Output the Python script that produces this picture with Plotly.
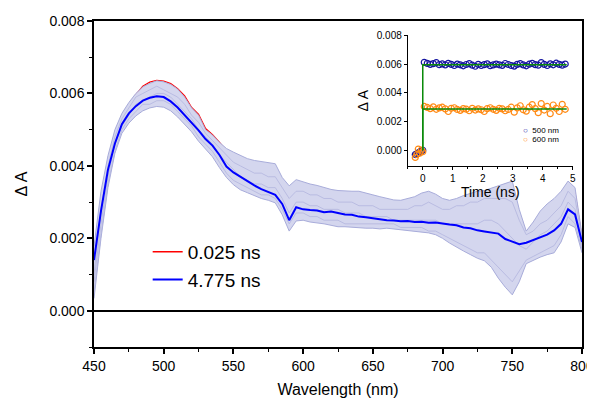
import plotly.graph_objects as go

# ---------------- main chart data ----------------
wavelength = [450, 455, 460, 465, 470, 475, 480, 485, 490, 495, 500, 505, 510, 515, 520, 525,
              530, 535, 540, 545, 550, 555, 560, 565, 570, 575, 580, 585, 590, 595, 600, 605,
              610, 615, 620, 625, 630, 635, 640, 645, 650, 655, 660, 665, 670, 675, 680, 685,
              690, 695, 700, 705, 710, 715, 720, 725, 730, 735, 740, 745, 750, 755, 760, 765,
              770, 775, 780, 785, 790, 795, 800]

spec_4775ns = [0.00140, 0.00275, 0.00389, 0.00462, 0.00515, 0.00545, 0.00565, 0.00580, 0.00588,
               0.00592, 0.00590, 0.00578, 0.00561, 0.00540, 0.00520, 0.00498, 0.00474, 0.00456,
               0.00430, 0.00398, 0.00382, 0.00370, 0.00356, 0.00346, 0.00336, 0.00328, 0.00320,
               0.00295, 0.00250, 0.00286, 0.00280, 0.00278, 0.00277, 0.00272, 0.00274, 0.00270,
               0.00266, 0.00265, 0.00260, 0.00258, 0.00255, 0.00252, 0.00250, 0.00249, 0.00247,
               0.00248, 0.00245, 0.00246, 0.00243, 0.00244, 0.00240, 0.00238, 0.00236, 0.00230,
               0.00228, 0.00222, 0.00219, 0.00215, 0.00213, 0.00198, 0.00192, 0.00184, 0.00188,
               0.00196, 0.00202, 0.00210, 0.00222, 0.00240, 0.00280, 0.00266, 0.00190]

spec_0025ns = [0.00060, 0.00240, 0.00380, 0.00470, 0.00530, 0.00568, 0.00596, 0.00620, 0.00631,
               0.00636, 0.00634, 0.00627, 0.00613, 0.00593, 0.00561, 0.00542, 0.00503, 0.00486,
               0.00465, 0.00440, 0.00425, 0.00415, 0.00405, 0.00398, 0.00392, 0.00388, 0.00385,
               0.00350, 0.00320, 0.00345, 0.00338, 0.00332, 0.00328, 0.00322, 0.00318, 0.00315,
               0.00312, 0.00310, 0.00308, 0.00305, 0.00300, 0.00296, 0.00292, 0.00290, 0.00288,
               0.00290, 0.00295, 0.00300, 0.00305, 0.00298, 0.00290, 0.00285, 0.00288, 0.00294,
               0.00300, 0.00305, 0.00310, 0.00315, 0.00322, 0.00330, 0.00335, 0.00265, 0.00205,
               0.00230, 0.00258, 0.00275, 0.00290, 0.00312, 0.00340, 0.00325, 0.00200]

# envelope of the intermediate-delay spectra (light lavender bundle)
bundle_upper = [0.00178, 0.00330, 0.00428, 0.00500, 0.00545, 0.00575, 0.00600, 0.00618, 0.00628,
                0.00635, 0.00632, 0.00625, 0.00612, 0.00590, 0.00560, 0.00540, 0.00500, 0.00485,
                0.00465, 0.00448, 0.00438, 0.00428, 0.00420, 0.00415, 0.00412, 0.00410, 0.00406,
                0.00368, 0.00345, 0.00362, 0.00355, 0.00350, 0.00346, 0.00340, 0.00335, 0.00332,
                0.00330, 0.00330, 0.00330, 0.00326, 0.00320, 0.00315, 0.00310, 0.00306, 0.00305,
                0.00310, 0.00315, 0.00325, 0.00330, 0.00322, 0.00310, 0.00305, 0.00310, 0.00318,
                0.00325, 0.00330, 0.00332, 0.00338, 0.00345, 0.00352, 0.00358, 0.00280, 0.00220,
                0.00245, 0.00275, 0.00295, 0.00310, 0.00330, 0.00358, 0.00340, 0.00210]

bundle_lower = [0.00034, 0.00200, 0.00340, 0.00435, 0.00490, 0.00518, 0.00538, 0.00552, 0.00560,
                0.00564, 0.00562, 0.00552, 0.00535, 0.00515, 0.00494, 0.00468, 0.00445, 0.00425,
                0.00395, 0.00368, 0.00348, 0.00334, 0.00326, 0.00318, 0.00310, 0.00305, 0.00298,
                0.00265, 0.00220, 0.00248, 0.00250, 0.00245, 0.00243, 0.00240, 0.00236, 0.00232,
                0.00232, 0.00230, 0.00230, 0.00228, 0.00228, 0.00226, 0.00228, 0.00226, 0.00222,
                0.00220, 0.00218, 0.00218, 0.00215, 0.00210, 0.00200, 0.00187, 0.00175, 0.00165,
                0.00155, 0.00145, 0.00138, 0.00120, 0.00090, 0.00065, 0.00044, 0.00080, 0.00130,
                0.00140, 0.00148, 0.00155, 0.00160, 0.00190, 0.00240, 0.00230, 0.00160]

# a few individual intermediate-delay spectra inside the bundle
spec_mid_a = [0.0010, 0.0028, 0.0040, 0.0048, 0.0053, 0.0056, 0.0059, 0.0060, 0.0061, 0.0062,
              0.0061, 0.0060, 0.0059, 0.0057, 0.0054, 0.0052, 0.0049, 0.0047, 0.0045, 0.0043,
              0.0041, 0.0040, 0.0039, 0.0038, 0.0038, 0.0037, 0.0037, 0.0034, 0.0031, 0.0033,
              0.0033, 0.0032, 0.0032, 0.0031, 0.0031, 0.0030, 0.0030, 0.0030, 0.0029, 0.0029,
              0.0029, 0.0028, 0.0028, 0.0028, 0.0028, 0.0028, 0.0029, 0.0029, 0.0030, 0.0029,
              0.0028, 0.0028, 0.0029, 0.0029, 0.0030, 0.0030, 0.0031, 0.0031, 0.0031, 0.0031,
              0.0030, 0.0025, 0.0021, 0.0022, 0.0024, 0.0025, 0.0027, 0.0029, 0.0033, 0.0031,
              0.0020]
spec_mid_b = [0.0008, 0.0024, 0.0037, 0.0046, 0.0051, 0.0054, 0.0057, 0.0058, 0.0059, 0.0060,
              0.0060, 0.0059, 0.0057, 0.0055, 0.0053, 0.0050, 0.0048, 0.0046, 0.0043, 0.0041,
              0.0039, 0.0037, 0.0036, 0.0035, 0.0035, 0.0034, 0.0034, 0.0031, 0.0027, 0.0030,
              0.0030, 0.0029, 0.0029, 0.0028, 0.0028, 0.0028, 0.0027, 0.0027, 0.0027, 0.0026,
              0.0026, 0.0026, 0.0026, 0.0025, 0.0025, 0.0025, 0.0025, 0.0025, 0.0025, 0.0025,
              0.0024, 0.0024, 0.0024, 0.0024, 0.0024, 0.0024, 0.0025, 0.0025, 0.0024, 0.0022,
              0.0020, 0.0018, 0.0017, 0.0019, 0.0021, 0.0022, 0.0024, 0.0026, 0.0030, 0.0028,
              0.0018]
spec_mid_c = [0.0005, 0.0021, 0.0035, 0.0044, 0.0050, 0.0053, 0.0055, 0.0057, 0.0057, 0.0058,
              0.0058, 0.0057, 0.0055, 0.0053, 0.0051, 0.0048, 0.0046, 0.0044, 0.0041, 0.0038,
              0.0036, 0.0035, 0.0034, 0.0033, 0.0032, 0.0032, 0.0031, 0.0028, 0.0024, 0.0027,
              0.0027, 0.0026, 0.0026, 0.0025, 0.0025, 0.0025, 0.0024, 0.0024, 0.0024, 0.0024,
              0.0024, 0.0024, 0.0024, 0.0024, 0.0023, 0.0023, 0.0023, 0.0023, 0.0022, 0.0022,
              0.0021, 0.0020, 0.0019, 0.0018, 0.0017, 0.0016, 0.0016, 0.0014, 0.0012, 0.0010,
              0.0008, 0.0011, 0.0014, 0.0015, 0.0016, 0.0017, 0.0018, 0.0021, 0.0026, 0.0024,
              0.0017]

x_ticks = [450, 500, 550, 600, 650, 700, 750, 800]
y_ticks = [0.000, 0.002, 0.004, 0.006, 0.008]
y_tick_labels = ["0.000", "0.002", "0.004", "0.006", "0.008"]

# ---------------- inset (kinetics) data ----------------
t_pre = [-0.25, -0.20, -0.15, -0.10, -0.05, 0.00]
kin500_pre = [-0.00030, -0.00025, -0.00018, -0.00012, -0.00005, 0.00000]
kin600_pre = [-0.00050, -0.00030, 0.00008, -0.00020, 0.00002, -0.00010]

t_post = [0.05, 0.15, 0.25, 0.35, 0.45, 0.55, 0.65, 0.75, 0.85, 0.95,
          1.05, 1.15, 1.25, 1.35, 1.45, 1.55, 1.65, 1.75, 1.85, 1.95,
          2.05, 2.15, 2.25, 2.35, 2.45, 2.55, 2.65, 2.75, 2.85, 2.95,
          3.05, 3.15, 3.25, 3.35, 3.45, 3.55, 3.65, 3.75, 3.85, 3.95,
          4.05, 4.15, 4.25, 4.35, 4.45, 4.55, 4.65, 4.75]
kin500 = [0.00612, 0.00605, 0.00598, 0.00603, 0.00610, 0.00596, 0.00601, 0.00594, 0.00605, 0.00598,
          0.00590, 0.00600, 0.00595, 0.00588, 0.00597, 0.00603, 0.00592, 0.00585, 0.00598, 0.00590,
          0.00596, 0.00602, 0.00589, 0.00594, 0.00600, 0.00595, 0.00591, 0.00604, 0.00597, 0.00590,
          0.00586, 0.00598, 0.00603, 0.00594, 0.00588, 0.00599, 0.00605, 0.00596, 0.00592, 0.00610,
          0.00598, 0.00590, 0.00602, 0.00595, 0.00606, 0.00598, 0.00592, 0.00600]
kin600 = [0.00305, 0.00298, 0.00290, 0.00302, 0.00285, 0.00295, 0.00300, 0.00288, 0.00270, 0.00292,
          0.00296, 0.00284, 0.00278, 0.00290, 0.00286, 0.00275, 0.00292, 0.00280, 0.00288, 0.00282,
          0.00270, 0.00290, 0.00296, 0.00285, 0.00278, 0.00292, 0.00288, 0.00275, 0.00284, 0.00300,
          0.00265, 0.00295, 0.00310, 0.00282, 0.00272, 0.00300, 0.00318, 0.00290, 0.00262, 0.00325,
          0.00280, 0.00305, 0.00255, 0.00315, 0.00292, 0.00270, 0.00320, 0.00285]

fit_t = [0.0, 0.0, 4.8]
fit500 = [0.0, 0.00595, 0.00595]
fit600 = [0.0, 0.00288, 0.00288]

inset_x_ticks = [0, 1, 2, 3, 4, 5]

FONT = "Arial, Liberation Sans, sans-serif"
BUNDLE_LINE = "rgb(168,172,218)"
BUNDLE_INNER = "rgb(178,181,222)"
BUNDLE_FILL = "rgb(212,214,238)"
BLUE500 = "#1414a0"
ORANGE600 = "#ff8a14"
GREEN = "#0a8a0a"

fig = go.Figure()

# red spectrum (mostly hidden under the bundle)
fig.add_trace(go.Scatter(x=wavelength, y=spec_0025ns, mode="lines", name="0.025 ns",
                         line=dict(color="#ff0000", width=1.3)))
# bundle of intermediate spectra
fig.add_trace(go.Scatter(x=wavelength, y=bundle_lower, mode="lines", showlegend=False,
                         line=dict(color=BUNDLE_LINE, width=1)))
fig.add_trace(go.Scatter(x=wavelength, y=bundle_upper, mode="lines", showlegend=False,
                         fill="tonexty", fillcolor=BUNDLE_FILL,
                         line=dict(color=BUNDLE_LINE, width=1)))
for spec in (spec_mid_a, spec_mid_b, spec_mid_c):
    fig.add_trace(go.Scatter(x=wavelength, y=spec, mode="lines", showlegend=False,
                             line=dict(color=BUNDLE_INNER, width=0.8)))
# blue spectrum
fig.add_trace(go.Scatter(x=wavelength, y=spec_4775ns, mode="lines", name="4.775 ns",
                         line=dict(color="#0000ff", width=2)))

# inset kinetics
fig.add_trace(go.Scatter(x=t_pre + t_post, y=kin500_pre + kin500, mode="markers", showlegend=False,
                         xaxis="x2", yaxis="y2",
                         marker=dict(symbol="circle-open", size=6, color=BLUE500, line=dict(width=1.2))))
fig.add_trace(go.Scatter(x=t_pre + t_post, y=kin600_pre + kin600, mode="markers", showlegend=False,
                         xaxis="x2", yaxis="y2",
                         marker=dict(symbol="circle-open", size=6, color=ORANGE600, line=dict(width=1.2))))
fig.add_trace(go.Scatter(x=fit_t, y=fit500, mode="lines", showlegend=False, xaxis="x2", yaxis="y2",
                         line=dict(color=GREEN, width=1.5)))
fig.add_trace(go.Scatter(x=fit_t, y=fit600, mode="lines", showlegend=False, xaxis="x2", yaxis="y2",
                         line=dict(color=GREEN, width=1.5)))

# the page places the figure 8 px from the window's top-left corner, so the figure is
# sized to fit the remaining window and the margins land the axes where the reference has them
fig.update_layout(
    width=587, height=390,
    margin=dict(l=86, r=13, t=13, b=51),
    paper_bgcolor="white", plot_bgcolor="white",
    font=dict(family=FONT, color="black", size=14),
    showlegend=True,
    legend=dict(x=0.11, y=0.35, xanchor="left", yanchor="top", traceorder="normal",
                bgcolor="rgba(0,0,0,0)", borderwidth=0,
                font=dict(size=19, family=FONT), tracegroupgap=0),
    xaxis=dict(range=[450, 800], tickvals=x_ticks, showline=True, mirror=True, automargin=False,
               ticklabeloverflow="allow",
               linecolor="black", linewidth=1.5, ticks="outside", ticklen=5, tickwidth=1.5,
               tickcolor="black", showgrid=False, zeroline=False,
               minor=dict(dtick=25, ticks="outside", ticklen=3, tickwidth=1.2, tickcolor="black"),
               tickfont=dict(size=14),
               title=dict(text="Wavelength (nm)", font=dict(size=16), standoff=13)),
    yaxis=dict(range=[-0.001, 0.008], tickvals=y_ticks, ticktext=y_tick_labels, showline=True,
               mirror=True, automargin=False,
               linecolor="black", linewidth=1.5, ticks="outside", ticklen=5,
               tickwidth=1.5, tickcolor="black", showgrid=False,
               zeroline=True, zerolinecolor="black", zerolinewidth=1.5,
               minor=dict(tickvals=[-0.001, 0.001, 0.003, 0.005, 0.007], ticks="outside",
                          ticklen=3, tickwidth=1.2, tickcolor="black"),
               tickfont=dict(size=14),
               title=dict(text="Δ A", font=dict(size=16), standoff=18)),
    xaxis2=dict(domain=[0.643, 0.981], anchor="y2", range=[-0.5, 5.0], tickvals=inset_x_ticks,
                automargin=False,
                showline=True, linecolor="black", linewidth=1, ticks="outside", ticklen=3,
                tickwidth=1, tickcolor="black", showgrid=False, zeroline=False,
                minor=dict(dtick=0.5, ticks="outside", ticklen=2, tickwidth=1, tickcolor="black"),
                tickfont=dict(size=10),
                title=dict(text="Time (ns)", font=dict(size=14), standoff=0)),
    yaxis2=dict(domain=[0.555, 0.956], anchor="x2", range=[-0.0011, 0.008], tickvals=y_ticks,
                automargin=False,
                ticktext=y_tick_labels, showline=True, linecolor="black", linewidth=1,
                ticks="outside", ticklen=3, tickwidth=1, tickcolor="black", showgrid=False,
                zeroline=False, tickfont=dict(size=10),
                title=dict(text="Δ A", font=dict(size=14), standoff=4)),
    annotations=[
        dict(xref="paper", yref="paper", x=0.876, y=0.664, xanchor="left", yanchor="middle",
             showarrow=False, font=dict(size=8, family=FONT),
             text=f"<span style='color:{BLUE500}'>○</span>  500 nm"),
        dict(xref="paper", yref="paper", x=0.876, y=0.636, xanchor="left", yanchor="middle",
             showarrow=False, font=dict(size=8, family=FONT),
             text=f"<span style='color:{ORANGE600}'>○</span>  600 nm"),
    ],
)

fig.write_html("out.html")
